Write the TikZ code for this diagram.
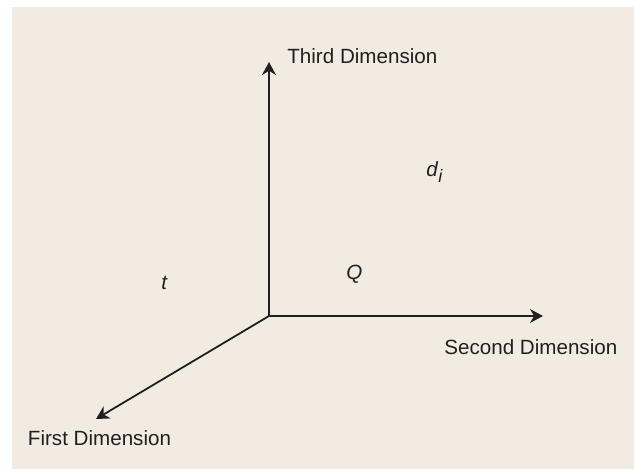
\documentclass[tikz,border=0pt]{standalone}
\usepackage{fontspec}
\setmainfont{Liberation Sans}
\usepackage{xcolor}
\usetikzlibrary{arrows.meta}
\definecolor{paper}{RGB}{241,235,226}
\definecolor{ink}{RGB}{35,31,32}

\begin{document}
\begin{tikzpicture}[>={Stealth[length=6.5pt,width=7pt]},
  every node/.style={inner sep=0pt,text=ink,font=\fontsize{10.3}{12}\selectfont},
  axis/.style={->,draw=ink,line width=0.9pt}]
\useasboundingbox(-4.727,-2.689)rectangle(6.414,5.553);
\fill[white](-4.727,-2.689)rectangle(6.414,5.553);
\fill[paper](-4.516,-2.689)rectangle(6.414,5.430);
% axes
\coordinate(O)at(0,0);
\coordinate(zend)at(0,4.463);
\coordinate(yend)at(4.814,0);
\coordinate(xend)at(-3.040,-1.810);
\draw[axis](O)--(zend);
\draw[axis](O)--(yend);
\draw[axis](O)--(xend);
% labels
\node[anchor=base west](zlab)at(0.316,4.445){Third Dimension};
\node[anchor=base west](ylab)at(3.075,-0.685){Second Dimension};
\node[anchor=base west](xlab)at(-4.243,-2.267){First Dimension};
\node[anchor=base west](di)at(2.759,2.460){\textit{d}\raisebox{-3.2pt}{\fontsize{9}{10}\selectfont\textit{i}}};
\node[anchor=base west](Q)at(1.353,0.633){\textit{Q}};
\node[anchor=base west](t)at(-1.898,0.474){\textit{t}};
\end{tikzpicture}
\end{document}
